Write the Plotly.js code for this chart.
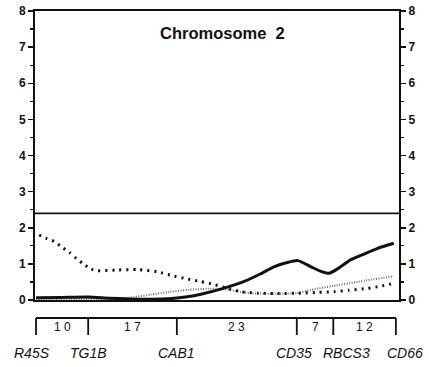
<!DOCTYPE html>
<html><head><meta charset="utf-8">
<script src="https://cdn.plot.ly/plotly-3.0.1.min.js"></script>
<style>html,body{margin:0;padding:0;background:#fff}</style>
</head><body><div id="chart" style="width:429px;height:367px"></div>
<script>
// Map data
const markers = ['R45S','TG1B','CAB1','CD35','RBCS3','CD66'];
const intervals = [10, 17, 23, 7, 12];
const threshold = 2.4;
const chromTitle = 'Chromosome  2';

// LOD curves (position in cM, LOD)
const solidX = [0, 5, 10, 14, 18, 22, 26, 29, 31.6, 35.4, 39.8, 43, 45.6, 48, 50.2, 52.7, 54.5, 56.2, 58, 60.3, 63, 65.5, 68.6];
const solidY = [0.06, 0.07, 0.08, 0.05, 0.03, 0.02, 0.04, 0.09, 0.16, 0.30, 0.51, 0.72, 0.92, 1.03, 1.09, 0.92, 0.80, 0.74, 0.88, 1.11, 1.28, 1.43, 1.57];

const dotX = [0.6, 1.9, 3.5, 4.8, 6.4, 7.7, 8.9, 10.5, 11.8, 15.3, 19.5, 23.3, 26.5, 29.1, 31.6, 34.1, 36.5, 39.3, 42.5, 46, 50.8, 54, 57.1, 60, 63.5, 66, 68.6];
const dotY = [1.80, 1.71, 1.62, 1.48, 1.32, 1.15, 1.02, 0.86, 0.81, 0.83, 0.84, 0.78, 0.66, 0.58, 0.51, 0.43, 0.33, 0.23, 0.19, 0.18, 0.19, 0.21, 0.23, 0.27, 0.32, 0.38, 0.46];

const fineX = [0, 10, 15, 18.8, 22, 25.5, 29, 33, 36, 38.5, 41, 46, 50, 52.7, 57, 62, 68.6];
const fineY = [0.03, 0.03, 0.03, 0.08, 0.15, 0.22, 0.28, 0.31, 0.30, 0.24, 0.19, 0.17, 0.19, 0.28, 0.39, 0.51, 0.66];

// cumulative marker positions
const markerPos = [0];
intervals.forEach((d, i) => markerPos.push(markerPos[i] + d));
const total = markerPos[markerPos.length - 1];

const traces = [
  {x: fineX, y: fineY, type: 'scatter', mode: 'lines', line: {color: '#6e6e6e', width: 2, dash: '1px,1.5px', shape: 'spline', smoothing: 0.6}, hoverinfo: 'skip'},
  {x: dotX, y: dotY, type: 'scatter', mode: 'lines', line: {color: '#111', width: 3, dash: '2px,5px', shape: 'spline', smoothing: 0.6}, hoverinfo: 'skip'},
  {x: solidX, y: solidY, type: 'scatter', mode: 'lines', line: {color: '#111', width: 3, shape: 'spline', smoothing: 0.6}, hoverinfo: 'skip'},
  {x: [0], y: [0], yaxis: 'y2', type: 'scatter', mode: 'markers', marker: {opacity: 0}, hoverinfo: 'skip'}
];

const P = v => (300 - v) / 289; // paper y from pixel row relative to plot
const shapes = [
  {type: 'line', xref: 'paper', yref: 'y', x0: 0, x1: 1, y0: threshold, y1: threshold, line: {color: '#111', width: 1.8}},
  {type: 'line', xref: 'x', yref: 'paper', x0: 0, x1: total, y0: P(318), y1: P(318), line: {color: '#111', width: 1.8}}
];
markerPos.forEach(p => {
  shapes.push({type: 'line', xref: 'x', yref: 'paper', x0: p, x1: p, y0: P(318), y1: P(335), line: {color: '#111', width: 1.8}});
});

const annotations = [
  {text: chromTitle, xref: 'paper', yref: 'paper', x: 0.515, y: P(33), showarrow: false, xanchor: 'center', yanchor: 'middle',
   font: {family: 'Liberation Sans, Arial, sans-serif', size: 16.5, color: '#111', weight: 'bold'}}
];
intervals.forEach((d, i) => {
  annotations.push({text: String(d).split('').join(' '), xref: 'x', yref: 'paper', x: (markerPos[i] + markerPos[i + 1]) / 2, y: P(327),
    showarrow: false, xanchor: 'center', yanchor: 'middle', font: {family: 'Liberation Sans, Arial, sans-serif', size: 12, color: '#111'}});
});
const nameShift = [-4, 0, 0, -3, 13, 9];
markers.forEach((m, i) => {
  annotations.push({text: '<i>' + m + '</i>', xref: 'x', yref: 'paper', x: markerPos[i], y: P(353), xshift: nameShift[i],
    showarrow: false, xanchor: 'center', yanchor: 'middle', font: {family: 'Liberation Sans, Arial, sans-serif', size: 14, color: '#111'}});
});

const yCommon = {
  range: [0, 8], dtick: 1, tick0: 0, ticks: 'outside', ticklen: 5, tickwidth: 1.5, tickcolor: '#111',
  showline: true, linecolor: '#111', linewidth: 2, showgrid: false, zeroline: false,
  tickfont: {family: 'Liberation Sans, Arial, sans-serif', size: 12, color: '#111', weight: 'bold'},
  minor: {dtick: 0.5, ticks: 'outside', ticklen: 3, tickwidth: 1.2, tickcolor: '#111', showgrid: false}
};

const layout = {
  width: 429, height: 367,
  margin: {l: 35, r: 30, t: 11, b: 67, pad: 0},
  paper_bgcolor: '#fff', plot_bgcolor: '#fff',
  showlegend: false,
  xaxis: {range: [-0.2, 69.6], showticklabels: false, ticks: '', showline: true, mirror: true, linecolor: '#111', linewidth: 2, showgrid: false, zeroline: false},
  yaxis: Object.assign({}, yCommon, {side: 'left'}),
  yaxis2: Object.assign({}, yCommon, {side: 'right', overlaying: 'y'}),
  shapes: shapes,
  annotations: annotations
};

Plotly.newPlot('chart', traces, layout, {staticPlot: true, displayModeBar: false});
</script>
</body></html>
